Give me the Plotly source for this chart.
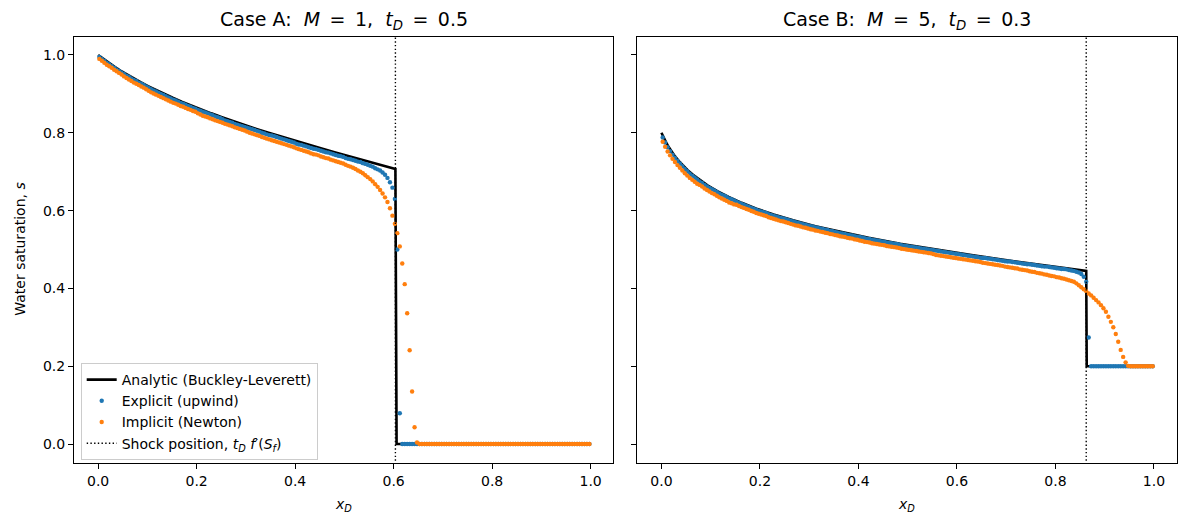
import plotly.graph_objects as go

# --- data ---
# cell centres (200 cells on [0, 1])
x_cells = [
    0.0025, 0.0075, 0.0125, 0.0175, 0.0225, 0.0275, 0.0325, 0.0375, 0.0425, 0.0475,
    0.0525, 0.0575, 0.0625, 0.0675, 0.0725, 0.0775, 0.0825, 0.0875, 0.0925, 0.0975,
    0.1025, 0.1075, 0.1125, 0.1175, 0.1225, 0.1275, 0.1325, 0.1375, 0.1425, 0.1475,
    0.1525, 0.1575, 0.1625, 0.1675, 0.1725, 0.1775, 0.1825, 0.1875, 0.1925, 0.1975,
    0.2025, 0.2075, 0.2125, 0.2175, 0.2225, 0.2275, 0.2325, 0.2375, 0.2425, 0.2475,
    0.2525, 0.2575, 0.2625, 0.2675, 0.2725, 0.2775, 0.2825, 0.2875, 0.2925, 0.2975,
    0.3025, 0.3075, 0.3125, 0.3175, 0.3225, 0.3275, 0.3325, 0.3375, 0.3425, 0.3475,
    0.3525, 0.3575, 0.3625, 0.3675, 0.3725, 0.3775, 0.3825, 0.3875, 0.3925, 0.3975,
    0.4025, 0.4075, 0.4125, 0.4175, 0.4225, 0.4275, 0.4325, 0.4375, 0.4425, 0.4475,
    0.4525, 0.4575, 0.4625, 0.4675, 0.4725, 0.4775, 0.4825, 0.4875, 0.4925, 0.4975,
    0.5025, 0.5075, 0.5125, 0.5175, 0.5225, 0.5275, 0.5325, 0.5375, 0.5425, 0.5475,
    0.5525, 0.5575, 0.5625, 0.5675, 0.5725, 0.5775, 0.5825, 0.5875, 0.5925, 0.5975,
    0.6025, 0.6075, 0.6125, 0.6175, 0.6225, 0.6275, 0.6325, 0.6375, 0.6425, 0.6475,
    0.6525, 0.6575, 0.6625, 0.6675, 0.6725, 0.6775, 0.6825, 0.6875, 0.6925, 0.6975,
    0.7025, 0.7075, 0.7125, 0.7175, 0.7225, 0.7275, 0.7325, 0.7375, 0.7425, 0.7475,
    0.7525, 0.7575, 0.7625, 0.7675, 0.7725, 0.7775, 0.7825, 0.7875, 0.7925, 0.7975,
    0.8025, 0.8075, 0.8125, 0.8175, 0.8225, 0.8275, 0.8325, 0.8375, 0.8425, 0.8475,
    0.8525, 0.8575, 0.8625, 0.8675, 0.8725, 0.8775, 0.8825, 0.8875, 0.8925, 0.8975,
    0.9025, 0.9075, 0.9125, 0.9175, 0.9225, 0.9275, 0.9325, 0.9375, 0.9425, 0.9475,
    0.9525, 0.9575, 0.9625, 0.9675, 0.9725, 0.9775, 0.9825, 0.9875, 0.9925, 0.9975,
]

# Case A: M = 1, tD = 0.5
case_a_analytic_x = [0.0, 0.0103, 0.0212, 0.0328, 0.0451, 0.0580, 0.0717, 0.0861, 0.1012, 0.1171,
                     0.1339, 0.1514, 0.1697, 0.1889, 0.2089, 0.2297, 0.2514, 0.2739, 0.2971, 0.3212,
                     0.3460, 0.3716, 0.3978, 0.4246, 0.4521, 0.4800, 0.5084, 0.5371, 0.5660, 0.5951,
                     0.6036, 0.6060, 1.0]
case_a_analytic_s = [1.00, 0.99, 0.98, 0.97, 0.96, 0.95, 0.94, 0.93, 0.92, 0.91,
                     0.90, 0.89, 0.88, 0.87, 0.86, 0.85, 0.84, 0.83, 0.82, 0.81,
                     0.80, 0.79, 0.78, 0.77, 0.76, 0.75, 0.74, 0.73, 0.72, 0.71,
                     0.7071, 0.0, 0.0]
case_a_explicit = [
    0.995, 0.990, 0.985, 0.980, 0.976, 0.972, 0.967, 0.963, 0.959, 0.955,
    0.951, 0.947, 0.944, 0.940, 0.936, 0.933, 0.929, 0.926, 0.923, 0.919,
    0.916, 0.912, 0.909, 0.906, 0.903, 0.900, 0.897, 0.894, 0.891, 0.888,
    0.885, 0.883, 0.880, 0.877, 0.875, 0.872, 0.869, 0.867, 0.864, 0.862,
    0.859, 0.857, 0.854, 0.852, 0.850, 0.847, 0.845, 0.842, 0.840, 0.838,
    0.835, 0.832, 0.830, 0.828, 0.826, 0.823, 0.821, 0.819, 0.817, 0.815,
    0.813, 0.811, 0.809, 0.807, 0.805, 0.803, 0.800, 0.798, 0.796, 0.794,
    0.793, 0.791, 0.789, 0.787, 0.785, 0.783, 0.781, 0.779, 0.777, 0.775,
    0.772, 0.770, 0.769, 0.767, 0.765, 0.763, 0.761, 0.759, 0.758, 0.756,
    0.754, 0.752, 0.750, 0.749, 0.747, 0.745, 0.743, 0.741, 0.740, 0.738,
    0.735, 0.733, 0.732, 0.730, 0.728, 0.726, 0.725, 0.722, 0.720, 0.718,
    0.715, 0.713, 0.709, 0.706, 0.703, 0.698, 0.692, 0.684, 0.673, 0.659,
    0.630, 0.500, 0.079, 0.000, 0.000, 0.000, 0.000, 0.000, 0.000, 0.000,
    0.000, 0.000, 0.000, 0.000, 0.000, 0.000, 0.000, 0.000, 0.000, 0.000,
    0.000, 0.000, 0.000, 0.000, 0.000, 0.000, 0.000, 0.000, 0.000, 0.000,
    0.000, 0.000, 0.000, 0.000, 0.000, 0.000, 0.000, 0.000, 0.000, 0.000,
    0.000, 0.000, 0.000, 0.000, 0.000, 0.000, 0.000, 0.000, 0.000, 0.000,
    0.000, 0.000, 0.000, 0.000, 0.000, 0.000, 0.000, 0.000, 0.000, 0.000,
    0.000, 0.000, 0.000, 0.000, 0.000, 0.000, 0.000, 0.000, 0.000, 0.000,
    0.000, 0.000, 0.000, 0.000, 0.000, 0.000, 0.000, 0.000, 0.000, 0.000,
]
case_a_implicit = [
    0.990, 0.985, 0.980, 0.975, 0.971, 0.967, 0.962, 0.958, 0.954, 0.950,
    0.945, 0.941, 0.937, 0.933, 0.929, 0.926, 0.923, 0.919, 0.916, 0.912,
    0.908, 0.904, 0.901, 0.898, 0.895, 0.892, 0.889, 0.886, 0.883, 0.880,
    0.877, 0.875, 0.872, 0.869, 0.867, 0.864, 0.861, 0.859, 0.856, 0.854,
    0.850, 0.847, 0.844, 0.842, 0.840, 0.837, 0.835, 0.832, 0.830, 0.828,
    0.826, 0.823, 0.821, 0.819, 0.817, 0.814, 0.812, 0.810, 0.808, 0.806,
    0.803, 0.800, 0.798, 0.796, 0.794, 0.792, 0.789, 0.787, 0.785, 0.783,
    0.781, 0.779, 0.777, 0.775, 0.773, 0.771, 0.769, 0.767, 0.765, 0.763,
    0.760, 0.758, 0.756, 0.754, 0.752, 0.750, 0.747, 0.745, 0.744, 0.742,
    0.739, 0.737, 0.735, 0.734, 0.731, 0.729, 0.727, 0.725, 0.723, 0.721,
    0.718, 0.715, 0.713, 0.710, 0.707, 0.703, 0.700, 0.696, 0.691, 0.686,
    0.681, 0.675, 0.668, 0.661, 0.653, 0.644, 0.634, 0.622, 0.606, 0.587,
    0.566, 0.542, 0.508, 0.464, 0.411, 0.336, 0.241, 0.135, 0.043, 0.004,
    0.000, 0.000, 0.000, 0.000, 0.000, 0.000, 0.000, 0.000, 0.000, 0.000,
    0.000, 0.000, 0.000, 0.000, 0.000, 0.000, 0.000, 0.000, 0.000, 0.000,
    0.000, 0.000, 0.000, 0.000, 0.000, 0.000, 0.000, 0.000, 0.000, 0.000,
    0.000, 0.000, 0.000, 0.000, 0.000, 0.000, 0.000, 0.000, 0.000, 0.000,
    0.000, 0.000, 0.000, 0.000, 0.000, 0.000, 0.000, 0.000, 0.000, 0.000,
    0.000, 0.000, 0.000, 0.000, 0.000, 0.000, 0.000, 0.000, 0.000, 0.000,
    0.000, 0.000, 0.000, 0.000, 0.000, 0.000, 0.000, 0.000, 0.000, 0.000,
]
shock_a = 0.6036

# Case B: M = 5, tD = 0.3
case_b_analytic_x = [0.0, 0.0021, 0.0042, 0.0066, 0.0090, 0.0117, 0.0144, 0.0174, 0.0205, 0.0273,
                     0.0350, 0.0436, 0.0532, 0.0641, 0.0762, 0.0935, 0.1134, 0.1364, 0.1628, 0.1930,
                     0.2277, 0.2673, 0.3124, 0.3634, 0.4207, 0.4848, 0.5556, 0.6328, 0.7156, 0.8027,
                     0.8625, 0.8635, 1.0]
case_b_analytic_s = [0.800, 0.794, 0.788, 0.782, 0.776, 0.770, 0.764, 0.758, 0.752, 0.740,
                     0.728, 0.716, 0.704, 0.692, 0.680, 0.665, 0.650, 0.635, 0.620, 0.605,
                     0.590, 0.575, 0.560, 0.545, 0.530, 0.515, 0.500, 0.485, 0.470, 0.455,
                     0.445, 0.200, 0.200]
case_b_explicit = [
    0.788, 0.775, 0.763, 0.753, 0.744, 0.736, 0.728, 0.721, 0.714, 0.707,
    0.701, 0.695, 0.690, 0.685, 0.680, 0.675, 0.671, 0.666, 0.662, 0.658,
    0.655, 0.652, 0.648, 0.644, 0.641, 0.638, 0.635, 0.631, 0.629, 0.626,
    0.623, 0.620, 0.617, 0.615, 0.612, 0.610, 0.607, 0.605, 0.602, 0.600,
    0.598, 0.596, 0.594, 0.591, 0.589, 0.587, 0.585, 0.583, 0.581, 0.580,
    0.578, 0.576, 0.574, 0.572, 0.570, 0.569, 0.567, 0.565, 0.564, 0.562,
    0.560, 0.559, 0.557, 0.556, 0.554, 0.553, 0.551, 0.550, 0.548, 0.547,
    0.545, 0.544, 0.542, 0.541, 0.540, 0.538, 0.537, 0.536, 0.534, 0.533,
    0.532, 0.531, 0.529, 0.528, 0.527, 0.525, 0.524, 0.523, 0.522, 0.521,
    0.520, 0.518, 0.517, 0.516, 0.515, 0.514, 0.513, 0.511, 0.510, 0.509,
    0.508, 0.507, 0.506, 0.505, 0.504, 0.503, 0.502, 0.501, 0.500, 0.499,
    0.498, 0.497, 0.496, 0.495, 0.494, 0.493, 0.492, 0.491, 0.490, 0.489,
    0.488, 0.487, 0.486, 0.485, 0.484, 0.483, 0.482, 0.481, 0.480, 0.479,
    0.478, 0.478, 0.477, 0.476, 0.475, 0.474, 0.473, 0.472, 0.471, 0.470,
    0.469, 0.469, 0.468, 0.467, 0.466, 0.465, 0.464, 0.463, 0.462, 0.462,
    0.461, 0.460, 0.459, 0.458, 0.457, 0.456, 0.456, 0.455, 0.454, 0.453,
    0.452, 0.451, 0.450, 0.450, 0.449, 0.447, 0.446, 0.445, 0.443, 0.441,
    0.437, 0.430, 0.417, 0.274, 0.200, 0.200, 0.200, 0.200, 0.200, 0.200,
    0.200, 0.200, 0.200, 0.200, 0.200, 0.200, 0.200, 0.200, 0.200, 0.200,
    0.200, 0.200, 0.200, 0.200, 0.200, 0.200, 0.200, 0.200, 0.200, 0.200,
]
case_b_implicit = [
    0.777, 0.764, 0.752, 0.742, 0.733, 0.725, 0.717, 0.710, 0.703, 0.696,
    0.690, 0.684, 0.679, 0.674, 0.669, 0.666, 0.662, 0.657, 0.653, 0.649,
    0.645, 0.642, 0.638, 0.634, 0.631, 0.628, 0.625, 0.621, 0.619, 0.616,
    0.615, 0.612, 0.609, 0.607, 0.604, 0.602, 0.599, 0.597, 0.594, 0.592,
    0.590, 0.588, 0.586, 0.583, 0.581, 0.579, 0.577, 0.575, 0.573, 0.572,
    0.570, 0.568, 0.566, 0.564, 0.562, 0.561, 0.559, 0.557, 0.556, 0.554,
    0.552, 0.551, 0.549, 0.548, 0.546, 0.545, 0.543, 0.542, 0.540, 0.539,
    0.537, 0.536, 0.534, 0.533, 0.532, 0.530, 0.529, 0.528, 0.526, 0.525,
    0.523, 0.522, 0.520, 0.519, 0.518, 0.516, 0.515, 0.514, 0.513, 0.512,
    0.511, 0.509, 0.508, 0.507, 0.506, 0.505, 0.504, 0.502, 0.501, 0.500,
    0.499, 0.498, 0.497, 0.496, 0.495, 0.494, 0.493, 0.492, 0.491, 0.490,
    0.488, 0.486, 0.485, 0.484, 0.483, 0.482, 0.481, 0.480, 0.479, 0.478,
    0.477, 0.476, 0.475, 0.474, 0.473, 0.472, 0.471, 0.470, 0.469, 0.468,
    0.466, 0.465, 0.464, 0.463, 0.462, 0.461, 0.460, 0.459, 0.458, 0.456,
    0.455, 0.454, 0.453, 0.452, 0.451, 0.449, 0.448, 0.447, 0.446, 0.444,
    0.443, 0.442, 0.440, 0.439, 0.438, 0.436, 0.435, 0.433, 0.432, 0.431,
    0.429, 0.428, 0.426, 0.425, 0.423, 0.421, 0.419, 0.417, 0.413, 0.408,
    0.403, 0.398, 0.393, 0.387, 0.382, 0.376, 0.370, 0.364, 0.357, 0.349,
    0.340, 0.327, 0.314, 0.300, 0.283, 0.263, 0.242, 0.224, 0.210, 0.201,
    0.200, 0.200, 0.200, 0.200, 0.200, 0.200, 0.200, 0.200, 0.200, 0.200,
]
shock_b = 0.8625

tick_vals = [0.0, 0.2, 0.4, 0.6, 0.8, 1.0]

# --- styling ---
# the page body has an 8px margin, so the figure is a bit smaller than the
# window and every pixel position below is measured on the window and shifted
OFF = 8
W, H = 1172, 511
FONT = "DejaVu Sans"
BLUE = "#1f77b4"
ORANGE = "#ff7f0e"
EQ = "\u2002=\u2002"   # wider gaps round "=" like mathtext


def px_x(px):
    return (px - OFF) / W


def px_y(py):
    return (H - (py - OFF)) / H


fig = go.Figure()

panels = [
    ("x", "y", case_a_analytic_x, case_a_analytic_s, case_a_explicit, case_a_implicit, shock_a, True),
    ("x2", "y2", case_b_analytic_x, case_b_analytic_s, case_b_explicit, case_b_implicit, shock_b, False),
]
for xa, ya, ax_x, ax_s, expl, impl, shock, legend in panels:
    fig.add_trace(go.Scatter(
        x=ax_x, y=ax_s, mode="lines", name="Analytic (Buckley-Leverett)",
        line=dict(color="black", width=2.6), xaxis=xa, yaxis=ya, showlegend=legend))
    fig.add_trace(go.Scatter(
        x=x_cells, y=expl, mode="markers", name="Explicit (upwind)",
        marker=dict(color=BLUE, size=4.4, line=dict(width=0)),
        xaxis=xa, yaxis=ya, showlegend=legend))
    fig.add_trace(go.Scatter(
        x=x_cells, y=impl, mode="markers", name="Implicit (Newton)",
        marker=dict(color=ORANGE, size=4.4, line=dict(width=0)),
        xaxis=xa, yaxis=ya, showlegend=legend))
    fig.add_trace(go.Scatter(
        x=[shock, shock], y=[-0.1, 1.1], mode="lines",
        name="Shock position, <i>t<sub>D</sub></i> <i>f</i>\u2032(<i>S<sub>f</sub></i>)",
        line=dict(color="black", width=1.4, dash="1.4px,2.3px"),
        xaxis=xa, yaxis=ya, showlegend=legend))

axis_common = dict(
    showline=True, linecolor="black", linewidth=1.1, mirror=True,
    ticks="outside", ticklen=5, tickwidth=1.1, tickcolor="black",
    showgrid=False, zeroline=False, tickvals=tick_vals,
    ticktext=[f"{v:.1f}" for v in tick_vals],
    tickfont=dict(family=FONT, size=14, color="black"),
)

xdom_a = [px_x(74), px_x(613.3)]
xdom_b = [px_x(637.3), px_x(1176.6)]
ydom = [px_y(462.7), px_y(36.7)]

fig.update_layout(
    width=W, height=H,
    paper_bgcolor="white", plot_bgcolor="white",
    margin=dict(l=0, r=0, t=0, b=0),
    font=dict(family=FONT, size=14, color="black"),
    xaxis=dict(domain=xdom_a, range=[-0.049, 1.046], anchor="y", **axis_common),
    yaxis=dict(domain=ydom, range=[-0.048, 1.047], anchor="x", **axis_common),
    xaxis2=dict(domain=xdom_b, range=[-0.049, 1.046], anchor="y2", **axis_common),
    yaxis2=dict(domain=ydom, range=[-0.048, 1.047], anchor="x2", showticklabels=False,
                **axis_common),
    showlegend=True,
    legend=dict(
        x=px_x(80.7), y=px_y(363), xanchor="left", yanchor="top",
        font=dict(family=FONT, size=14, color="black"),
        bgcolor="rgba(255,255,255,0.8)", bordercolor="#cccccc", borderwidth=1,
        itemwidth=30, tracegroupgap=0,
    ),
)

annotations = [
    dict(text=f"Case A:\u00a0\u00a0<i>M</i>{EQ}1,\u00a0\u00a0<i>t<sub>D</sub></i>{EQ}0.5",
         x=(xdom_a[0] + xdom_a[1]) / 2, y=px_y(20), font=dict(size=19)),
    dict(text=f"Case B:\u00a0\u00a0<i>M</i>{EQ}5,\u00a0\u00a0<i>t<sub>D</sub></i>{EQ}0.3",
         x=(xdom_b[0] + xdom_b[1]) / 2, y=px_y(20), font=dict(size=19)),
    dict(text="<i>x<sub>D</sub></i>", x=(xdom_a[0] + xdom_a[1]) / 2, y=px_y(505),
         font=dict(size=14)),
    dict(text="<i>x<sub>D</sub></i>", x=(xdom_b[0] + xdom_b[1]) / 2, y=px_y(505),
         font=dict(size=14)),
    dict(text="Water saturation, <i>s</i>", x=px_x(20), y=(ydom[0] + ydom[1]) / 2,
         textangle=-90, font=dict(size=14)),
]
for a in annotations:
    a.update(xref="paper", yref="paper", showarrow=False, xanchor="center", yanchor="middle")
    a["font"] = dict(family=FONT, color="black", **a["font"])
fig.update_layout(annotations=annotations)

fig.write_html("out.html")
